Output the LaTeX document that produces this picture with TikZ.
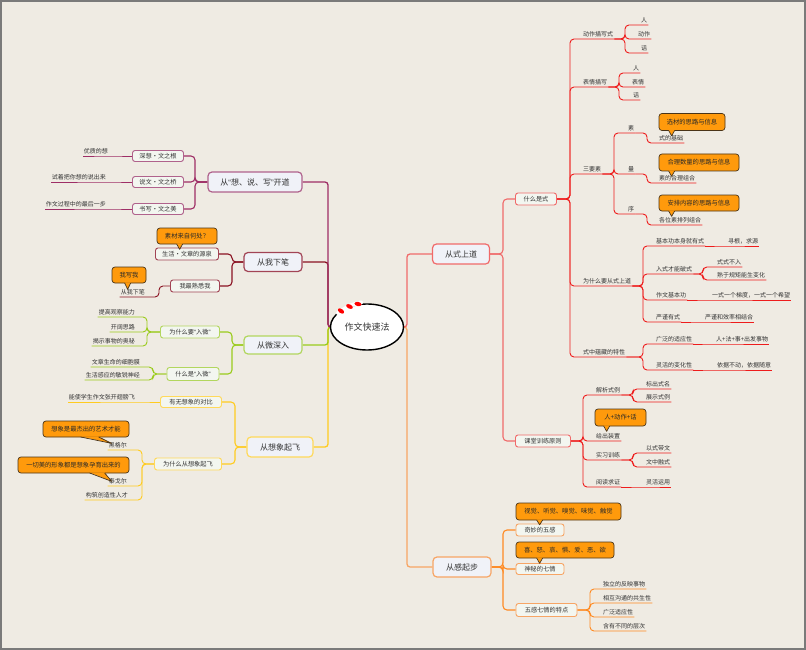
\documentclass[tikz,border=0pt]{standalone}
\usepackage{fontspec}
\setmainfont{Noto Sans CJK SC}
\newfontfamily\qf{Liberation Sans}
\usetikzlibrary{calc,shapes.geometric}

\definecolor{paper}{HTML}{EFEBE3}
\definecolor{frame}{HTML}{7A7A7A}
\definecolor{txt}{HTML}{333333}
\definecolor{boxfill}{HTML}{F3F6F0}
\definecolor{mainfill}{HTML}{F0F2F8}
\definecolor{callfill}{HTML}{FF9A0C}
\definecolor{callline}{HTML}{4A3418}
\definecolor{redl}{HTML}{EE1C1C}
\definecolor{redb}{HTML}{F06A6A}
\definecolor{orgl}{HTML}{FF8A22}
\definecolor{orgb}{HTML}{F7A565}
\definecolor{maul}{HTML}{9E2E66}
\definecolor{maub}{HTML}{B0628C}
\definecolor{drl}{HTML}{8A1222}
\definecolor{drb}{HTML}{A24455}
\definecolor{grl}{HTML}{9ACB1C}
\definecolor{grb}{HTML}{B2D65E}
\definecolor{yel}{HTML}{FFCB1F}
\definecolor{yeb}{HTML}{FFD95A}

\pgfdeclarelayer{paperlayer}
\pgfdeclarelayer{wires}
\pgfsetlayers{paperlayer,wires,main}

\tikzset{
  leafr/.style={font=\fontsize{6}{7}\selectfont, text=txt, inner sep=1pt, anchor=south west, text height=5pt, text depth=1pt},
  leafl/.style={leafr, anchor=south east},
  subbox/.style={draw, fill=boxfill, rounded corners=2.5pt, line width=0.9pt, font=\fontsize{6.2}{7}\selectfont, text=txt, minimum height=12pt, inner sep=1pt},
  mainbox/.style={draw, fill=mainfill, rounded corners=4pt, line width=1.2pt, font=\fontsize{8}{9}\selectfont, text=txt, minimum height=19pt, inner sep=1pt},
  callout/.style={draw=callline, fill=callfill, rounded corners=3pt, line width=0.7pt, font=\fontsize{6.3}{7}\selectfont, text=txt!80!black, minimum height=16pt, inner sep=1pt},
  wire/.style={rounded corners=4pt, line width=0.9pt},
  midwire/.style={rounded corners=4pt, line width=1.1pt},
  trunk/.style={rounded corners=3pt, line width=1.3pt},
}

% tail of a callout: node, base left, base right, tip x, tip y (offsets from its south west corner)
\newcommand\calltail[5]{%
  \fill[callfill] ($(#1.south west)+(#2,-0.9)$) -- ($(#1.south west)+(#4,#5)$) -- ($(#1.south west)+(#3,-0.9)$) -- cycle;
  \draw[callline, line width=0.7pt, line join=round] ($(#1.south west)+(#2,-0.35)$) -- ($(#1.south west)+(#4,#5)$) -- ($(#1.south west)+(#3,-0.35)$);}

\begin{document}
\begin{tikzpicture}[x=1pt,y=-1pt]
\useasboundingbox (0,0) rectangle (806,650);
\begin{pgfonlayer}{paperlayer}
  \fill[paper] (0,0) rectangle (806,650);
  \draw[frame, line width=2pt] (1,1) rectangle (805,649);
\end{pgfonlayer}

% ---------- centre ----------
\node[draw=black, fill=white, ellipse, line width=1.4pt, minimum width=70pt, minimum height=46pt, font=\fontsize{9}{10}\selectfont, text=txt] (ctr) at (367,327) {作文快速法};
\draw[white, line width=4pt, line cap=round] (338,313) -- (350,305.5) -- (361,302.5);
\fill[red] (341,311) ellipse [x radius=3.6, y radius=2.1, rotate=-35];
\fill[red] (349.5,306.5) ellipse [x radius=3.6, y radius=2.1, rotate=-25];
\fill[red] (358,304) ellipse [x radius=3.6, y radius=2.1, rotate=-12];

% ---------- main topics ----------
\node[mainbox, draw=maub, minimum width=94pt, minimum height=20pt] (mA) at (255,182) {从{\qf“}想、说、写{\qf”}开道};
\node[mainbox, draw=drb, minimum width=58pt] (mB) at (273,262) {从我下笔};
\node[mainbox, draw=grb, minimum width=58pt, minimum height=18pt] (mC) at (273,345) {从微深入};
\node[mainbox, draw=yeb, minimum width=66pt, minimum height=20pt] (mD) at (280,447) {从想象起飞};
\node[mainbox, draw=redb, minimum width=57pt, minimum height=20pt] (mE) at (461,254) {从式上道};
\node[mainbox, draw=orgb, minimum width=58pt, minimum height=20pt] (mF) at (462,567) {从感起步};

% ---------- 从“想、说、写”开道 ----------
\node[subbox, draw=maub, minimum width=51pt, minimum height=11pt] (a1) at (158,156) {深想·文之根};
\node[subbox, draw=maub, minimum width=51pt, minimum height=11pt] (a2) at (158,182) {说文·文之桥};
\node[subbox, draw=maub, minimum width=51pt, minimum height=11pt] (a3) at (158,209) {书写·文之美};
\node[leafl] (a1l) at (109,156) {优质的想};
\node[leafl] (a2l) at (107,182) {试着把你想的说出来};
\node[leafl] (a3l) at (107,209) {作文过程中的最后一步};

% ---------- 从我下笔 ----------
\node[subbox, draw=drb, minimum width=63pt] (b1) at (187,254) {生活·文章的源泉};
\node[subbox, draw=drb, minimum width=49pt] (b2) at (195,286) {我最熟悉我};
\node[callout, minimum width=60pt] (bc1) at (187,236) {素材来自何处？};
\calltail{bc1}{20}{26}{23}{5}
\node[leafl] (b2l) at (146,297) {从我下笔};
\node[callout, minimum width=34pt] (bc2) at (129,275) {我写我};
\calltail{bc2}{13}{19}{16}{6}

% ---------- 从微深入 ----------
\node[subbox, draw=grb, minimum width=59pt] (g1) at (190,332) {为什么要{\qf“}入微{\qf”}};
\node[subbox, draw=grb, minimum width=52pt, minimum height=13pt] (g2) at (193,374) {什么是{\qf“}入微{\qf”}};
\node[leafl] (g1a) at (136,317) {提高观察能力};
\node[leafl] (g1b) at (136,332) {开阔思路};
\node[leafl] (g1c) at (136,346) {揭示事物的奥秘};
\node[leafl] (g2a) at (141,367) {文章生命的细胞膜};
\node[leafl] (g2b) at (141,380) {生活感应的敏锐神经};

% ---------- 从想象起飞 ----------
\node[subbox, draw=yeb, minimum width=61pt, minimum height=11pt] (y1) at (191,402) {有无想象的对比};
\node[subbox, draw=yeb, minimum width=67pt] (y2) at (188,464) {为什么从想象起飞};
\node[leafl] (y1a) at (136,402) {能使学生作文张开翅膀飞};
\node[leafl] (y2a) at (128,450) {黑格尔};
\node[leafl] (y2b) at (128,486) {泰戈尔};
\node[leafl] (y2c) at (129,500) {构筑创造性人才};
\node[callout, minimum width=86pt] (yc1) at (86,429) {想象是最杰出的艺术才能};
\calltail{yc1}{38}{56}{69}{6}
\node[callout, minimum width=111pt] (yc2) at (73.5,465) {一切美的形象都是想象孕育出来的};
\calltail{yc2}{72}{87}{94}{8}

% ---------- 从式上道 ----------
\node[subbox, draw=redb, minimum width=41pt] (r1) at (536,199) {什么是式};
\node[subbox, draw=redb, minimum width=55pt] (r2) at (543,441) {课堂训练原则};

\node[leafr] (p1) at (582,39) {动作描写式};
\node[leafr] (p1a) at (640,25) {人};
\node[leafr] (p1b) at (637,39) {动作};
\node[leafr] (p1c) at (640,53) {话};

\node[leafr] (p2) at (582,87) {表情描写};
\node[leafr] (p2a) at (632,73) {人};
\node[leafr] (p2b) at (631,87) {表情};
\node[leafr] (p2c) at (632,100) {话};

\node[leafr] (p3) at (582,174) {三要素};
\node[leafr] (p3a) at (627,133) {素};
\node[leafr] (p3b) at (627,174) {量};
\node[leafr] (p3c) at (627,214) {序};
\node[leafr] (p3a1) at (658,143) {式的基础};
\node[leafr] (p3b1) at (658,183) {素的合理组合};
\node[leafr] (p3c1) at (658,225) {各位素排列组合};
\node[callout, minimum width=66pt, minimum height=17pt] (pc1) at (692,122) {选材的思路与信息};
\calltail{pc1}{10}{16}{13}{5}
\node[callout, minimum width=80pt, minimum height=17pt] (pc2) at (699,162.5) {合理数量的思路与信息};
\calltail{pc2}{10}{16}{13}{5}
\node[callout, minimum width=80pt] (pc3) at (699,203) {安排内容的思路与信息};
\calltail{pc3}{10}{16}{13}{5}

\node[leafr] (p4) at (582,286) {为什么要从式上道};
\node[leafr] (p4a) at (655,246) {基本功本身就有式};
\node[leafr] (p4a1) at (727,246) {寻根，求源};
\node[leafr] (p4b) at (655,274) {入式才能破式};
\node[leafr] (p4b1) at (716,267) {式式不入};
\node[leafr] (p4b2) at (716,280) {熟于规矩能生变化};
\node[leafr] (p4c) at (655,300) {作文基本功};
\node[leafr] (p4c1) at (711,300) {一式一个梯度，一式一个希望};
\node[leafr] (p4d) at (655,322) {严谨有式};
\node[leafr] (p4d1) at (704,322) {严谨和效率相结合};

\node[leafr] (p5) at (582,357) {式中蕴藏的特性};
\node[leafr] (p5a) at (655,344) {广泛的适应性};
\node[leafr] (p5a1) at (715,344) {人+法+事+出发事物};
\node[leafr] (p5b) at (655,370) {灵活的变化性};
\node[leafr] (p5b1) at (716,370) {依据不动，依据随意};

\node[leafr] (q1) at (595,395) {解析式例};
\node[leafr] (q1a) at (645,389) {标出式名};
\node[leafr] (q1b) at (645,402) {展示式例};
\node[leafr] (q2) at (595,441) {给出装置};
\node[callout, minimum width=51pt, minimum height=17pt] (qc) at (620.5,417.5) {人+动作+话};
\calltail{qc}{9}{15}{12}{5}
\node[leafr] (q3) at (595,460) {实习训练};
\node[leafr] (q3a) at (645,453) {以式带文};
\node[leafr] (q3b) at (645,467) {文中融式};
\node[leafr] (q4) at (595,487) {阅读求证};
\node[leafr] (q4a) at (645,487) {灵活运用};

% ---------- 从感起步 ----------
\node[subbox, draw=orgb, minimum width=48pt] (o1) at (540,530) {奇妙的五感};
\node[subbox, draw=orgb, minimum width=48pt, minimum height=11pt] (o2) at (540,569) {神秘的七情};
\node[subbox, draw=orgb, minimum width=61pt, minimum height=13pt] (o3) at (546.5,610) {五感七情的特点};
\node[callout, minimum width=105pt, minimum height=17pt] (oc1) at (568.5,511.5) {视觉、听觉、嗅觉、味觉、触觉};
\calltail{oc1}{21}{27}{24}{4.5}
\node[callout, minimum width=98pt] (oc2) at (565,550) {喜、怒、哀、惧、爱、恶、欲};
\calltail{oc2}{21}{27}{24}{5}
\node[leafr] (o3a) at (602,589) {独立的反映事物};
\node[leafr] (o3b) at (602,603) {相互沟通的共生性};
\node[leafr] (o3c) at (602,617) {广泛适应性};
\node[leafr] (o3d) at (602,631) {含有不同的层次};

% ---------- connectors ----------
\begin{pgfonlayer}{wires}
  % trunks from the centre
  \draw[trunk, yel] (ctr.west) -- (328,327) |- (mD.east);
  \draw[trunk, grl] (ctr.west) -- (328,327) |- (mC.east);
  \draw[trunk, drl] (ctr.west) -- (328,327) |- (mB.east);
  \draw[trunk, maul] (ctr.west) -- (328,327) |- (mA.east);
  \draw[trunk, orgb] (ctr.east) -- (407,327) |- (mF.west);
  \draw[trunk, redb] (ctr.east) -- (407,327) |- (mE.west);

  % 从“想、说、写”开道
  \foreach \n in {a1,a2,a3} \draw[midwire, maul] (mA.west) -- (195,182) |- (\n.east);
  \foreach \n in {a1,a2,a3} \draw[wire, maul] (\n.west) -- (\n l.south east) -- (\n l.south west);

  % 从我下笔
  \foreach \n in {b1,b2} \draw[midwire, drl] (mB.west) -- (232,262) |- (\n.east);
  \draw[wire, drl] (b2.west) -- (159,286) |- (b2l.south east) -- (b2l.south west);

  % 从微深入
  \foreach \n in {g1,g2} \draw[midwire, grl] (mC.west) -- (232,345) |- (\n.east);
  \foreach \n in {g1a,g1b,g1c} \draw[wire, grl] (g1.west) -- (147,332) |- (\n.south east) -- (\n.south west);
  \foreach \n in {g2a,g2b} \draw[wire, grl] (g2.west) -- (153,374) |- (\n.south east) -- (\n.south west);

  % 从想象起飞
  \foreach \n in {y1,y2} \draw[midwire, yel] (mD.west) -- (235,447) |- (\n.east);
  \draw[wire, yel] (y1.west) -- (y1a.south east) -- (y1a.south west);
  \foreach \n in {y2a,y2b,y2c} \draw[wire, yel] (y2.west) -- (142,464) |- (\n.south east) -- (\n.south west);

  % 从式上道
  \foreach \n in {r1,r2} \draw[midwire, redb] (mE.east) -- (503,254) |- (\n.west);
  \foreach \n in {p1,p2,p3,p4,p5} \draw[wire, redl] (r1.east) -- (570,199) |- (\n.south west) -- (\n.south east);
  \foreach \n in {p1a,p1b,p1c} \draw[wire, redl] (p1.south east) -- (625,39) |- (\n.south west) -- (\n.south east);
  \foreach \n in {p2a,p2b,p2c} \draw[wire, redl] (p2.south east) -- (619,87) |- (\n.south west) -- (\n.south east);
  \foreach \n in {p3a,p3b,p3c} \draw[wire, redl] (p3.south east) -- (614,174) |- (\n.south west) -- (\n.south east);
  \draw[wire, redl] (p3a.south east) -- (647,133) |- (p3a1.south west) -- (p3a1.south east);
  \draw[wire, redl] (p3b.south east) -- (647,174) |- (p3b1.south west) -- (p3b1.south east);
  \draw[wire, redl] (p3c.south east) -- (647,214) |- (p3c1.south west) -- (p3c1.south east);
  \foreach \n in {p4a,p4b,p4c,p4d} \draw[wire, redl] (p4.south east) -- (643,286) |- (\n.south west) -- (\n.south east);
  \draw[wire, redl] (p4a.south east) -- (p4a1.south west) -- (p4a1.south east);
  \foreach \n in {p4b1,p4b2} \draw[wire, redl] (p4b.south east) -- (703,274) |- (\n.south west) -- (\n.south east);
  \draw[wire, redl] (p4c.south east) -- (p4c1.south west) -- (p4c1.south east);
  \draw[wire, redl] (p4d.south east) -- (p4d1.south west) -- (p4d1.south east);
  \foreach \n in {p5a,p5b} \draw[wire, redl] (p5.south east) -- (643,357) |- (\n.south west) -- (\n.south east);
  \draw[wire, redl] (p5a.south east) -- (p5a1.south west) -- (p5a1.south east);
  \draw[wire, redl] (p5b.south east) -- (p5b1.south west) -- (p5b1.south east);

  \foreach \n in {q1,q2,q3,q4} \draw[wire, redl] (r2.east) -- (583,441) |- (\n.south west) -- (\n.south east);
  \foreach \n in {q1a,q1b} \draw[wire, redl] (q1.south east) -- (633,395) |- (\n.south west) -- (\n.south east);
  \foreach \n in {q3a,q3b} \draw[wire, redl] (q3.south east) -- (633,460) |- (\n.south west) -- (\n.south east);
  \draw[wire, redl] (q4.south east) -- (q4a.south west) -- (q4a.south east);

  % 从感起步
  \foreach \n in {o1,o2,o3} \draw[midwire, orgl] (mF.east) -- (503,567) |- (\n.west);
  \foreach \n in {o3a,o3b,o3c,o3d} \draw[wire, orgl] (o3.east) -- (590,610) |- (\n.south west) -- (\n.south east);
\end{pgfonlayer}
\end{tikzpicture}
\end{document}
